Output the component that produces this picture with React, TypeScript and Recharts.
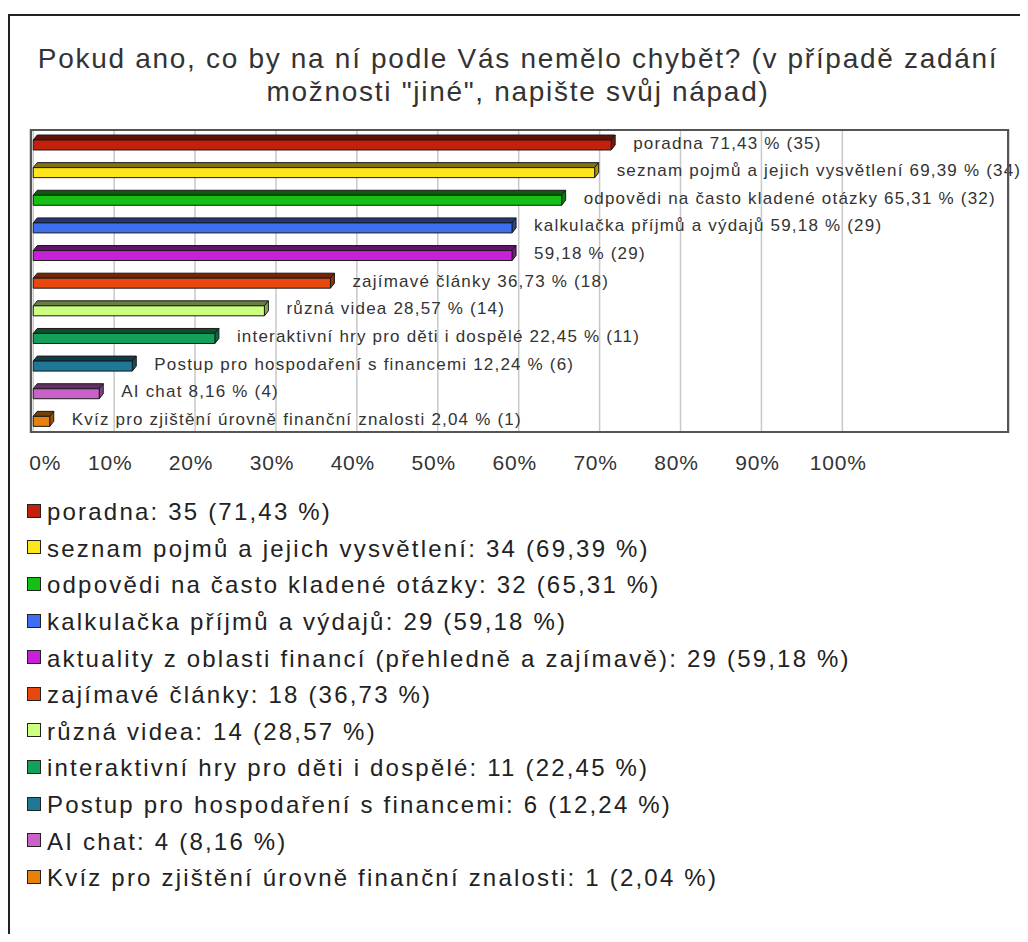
import React from 'react';
import { BarChart, Bar, XAxis, YAxis, CartesianGrid, Cell, LabelList } from 'recharts';

const categories = [
  'poradna',
  'seznam pojmů a jejich vysvětlení',
  'odpovědi na často kladené otázky',
  'kalkulačka příjmů a výdajů',
  'aktuality z oblasti financí (přehledně a zajímavě)',
  'zajímavé články',
  'různá videa',
  'interaktivní hry pro děti i dospělé',
  'Postup pro hospodaření s financemi',
  'AI chat',
  'Kvíz pro zjištění úrovně finanční znalosti',
];
const counts = [35, 34, 32, 29, 29, 18, 14, 11, 6, 4, 1];
const percents = [71.43, 69.39, 65.31, 59.18, 59.18, 36.73, 28.57, 22.45, 12.24, 8.16, 2.04];
// the long label is dropped inside the plot, only the numbers stay
const plotNames = [
  'poradna',
  'seznam pojmů a jejich vysvětlení',
  'odpovědi na často kladené otázky',
  'kalkulačka příjmů a výdajů',
  '',
  'zajímavé články',
  'různá videa',
  'interaktivní hry pro děti i dospělé',
  'Postup pro hospodaření s financemi',
  'AI chat',
  'Kvíz pro zjištění úrovně finanční znalosti',
];
const xTicks = [0, 10, 20, 30, 40, 50, 60, 70, 80, 90, 100];

const barColors = [
  '#c4210d', '#ffe61a', '#14c014', '#3f6ff0', '#c81fd8', '#e8480e',
  '#ccff80', '#13a05a', '#1e7896', '#c862c8', '#e8800c',
];

const FONT = '"Liberation Sans", Arial, sans-serif';

const fmt = (p: number) => p.toFixed(2).replace('.', ',');

const darken = (hex: string, k: number) => {
  const n = parseInt(hex.slice(1), 16);
  const r = Math.round(((n >> 16) & 255) * k);
  const g = Math.round(((n >> 8) & 255) * k);
  const b = Math.round((n & 255) * k);
  return `rgb(${r},${g},${b})`;
};

const data = categories.map((name, i) => ({ name, value: percents[i], count: counts[i] }));

// pseudo 3D bar: front face, top face and right side
const Bar3D = (props: any) => {
  const { x, y, width, height, index } = props;
  if (width == null || width <= 0) return null;
  const c = barColors[index];
  const d = 4;
  const h = 5;
  const fy = y + h;
  const fh = height - h;
  return (
    <g stroke="#1a1a1a" strokeWidth={1} strokeLinejoin="round">
      <polygon
        points={`${x},${fy} ${x + d},${y} ${x + width + d},${y} ${x + width},${fy}`}
        fill={darken(c, 0.5)}
      />
      <polygon
        points={`${x + width},${fy} ${x + width + d},${y} ${x + width + d},${y + fh} ${x + width},${fy + fh}`}
        fill={darken(c, 0.65)}
      />
      <rect x={x} y={fy} width={width} height={fh} fill={c} />
    </g>
  );
};

const BarText = (props: any) => {
  const { x, y, width, height, index } = props;
  const name = plotNames[index];
  const txt = `${name ? name + ' ' : ''}${fmt(percents[index])} % (${counts[index]})`;
  return (
    <text
      x={x + width + 22}
      y={y + height / 2 + 0.5}
      dominantBaseline="central"
      fontSize={17}
      letterSpacing={1.2}
      fill="#333"
      fontFamily={FONT}
    >
      {txt}
    </text>
  );
};

const XTick = (props: any) => {
  const { x, y, payload } = props;
  const shift = payload.value === 0 ? 12 : -4;
  return (
    <text
      x={x + shift}
      y={y + 37}
      textAnchor="middle"
      fontSize={21}
      letterSpacing={0.8}
      fill="#333"
      fontFamily={FONT}
    >
      {`${payload.value}%`}
    </text>
  );
};

export default function App() {
  return (
    <div style={{ position: 'relative', width: 1020, height: 926, fontFamily: FONT, overflow: 'hidden' }}>
      <style>{'html,body{overflow:hidden}'}</style>
      <div
        style={{
          position: 'absolute', left: 0, top: 6, width: 1030, height: 940,
          border: '2px solid #222', boxSizing: 'border-box',
        }}
      />
      <div
        style={{
          position: 'absolute', left: 0, top: 34, width: 1020, textAlign: 'center',
          fontSize: 28, letterSpacing: 1.7, lineHeight: '33px', color: '#333',
        }}
      >
        Pokud ano, co by na ní podle Vás nemělo chybět? (v případě zadání
        <br />
        možnosti "jiné", napište svůj nápad)
      </div>

      <div style={{ position: 'absolute', left: 0, top: 0 }}>
        <BarChart
          width={1020}
          height={480}
          data={data}
          layout="vertical"
          barSize={15}
          margin={{ top: 121, right: 19, left: 22, bottom: 0 }}
        >
          <CartesianGrid horizontal={false} stroke="#c8c8c8" strokeWidth={1.5} />
          <XAxis
            type="number"
            domain={[-0.4, 120.6]}
            allowDataOverflow
            ticks={xTicks}
            axisLine={false}
            tickLine={false}
            tickSize={0}
            tickMargin={0}
            height={55}
            interval={0}
            tick={<XTick />}
          />
          <YAxis type="category" dataKey="name" hide />
          <Bar dataKey="value" shape={<Bar3D />} isAnimationActive={false}>
            {data.map((d, i) => (
              <Cell key={d.name} fill={barColors[i]} />
            ))}
            <LabelList dataKey="value" content={<BarText />} />
          </Bar>
        </BarChart>
      </div>

      <div
        style={{
          position: 'absolute', left: 22, top: 121, width: 979, height: 304,
          border: '2px solid #555', boxSizing: 'border-box', pointerEvents: 'none',
        }}
      />

      <div style={{ position: 'absolute', left: 19, top: 486 }}>
        {categories.map((name, i) => (
          <div
            key={name}
            style={{
              height: 36.6, display: 'flex', alignItems: 'center',
              fontSize: 24, letterSpacing: 2.2, color: '#222', whiteSpace: 'nowrap',
            }}
          >
            <span
              style={{
                display: 'inline-block', width: 12, height: 12, background: barColors[i],
                border: '1.5px solid #222', marginRight: 6, marginTop: -3,
              }}
            />
            {`${name}: ${counts[i]} (${fmt(percents[i])} %)`}
          </div>
        ))}
      </div>
    </div>
  );
}
